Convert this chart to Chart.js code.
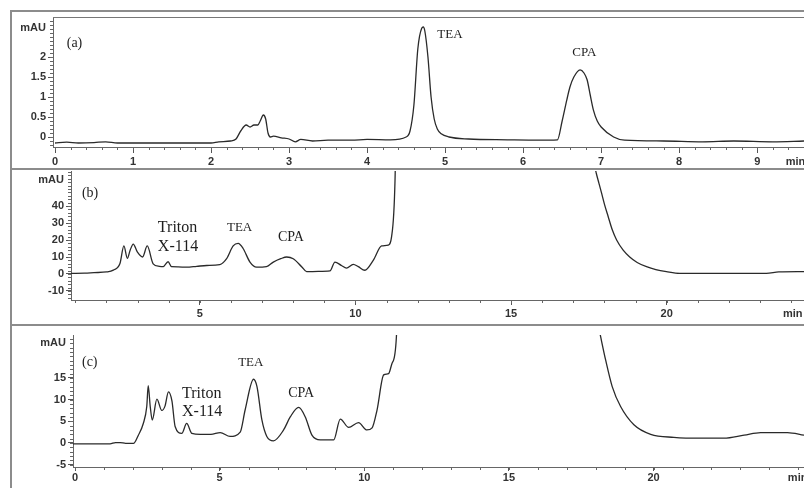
<!DOCTYPE html>
<html lang="en">
<head>
<meta charset="UTF-8">
<title>Chromatograms (a) (b) (c)</title>
<script src="https://cdn.jsdelivr.net/npm/chart.js@4.4.1/dist/chart.umd.min.js"></script>
<style>
    html, body { margin: 0; padding: 0; background: #fff; }
    #wrap { position: relative; width: 804px; height: 488px; overflow: hidden; }
    #wrap canvas { position: absolute; left: 0; }
    .rule { position: absolute; background: #8c8c8c; }
</style>
</head>
<body>
<div id="wrap">
    <!-- outer frame and panel separators -->
    <div class="rule" style="left:10px; top:10px; width:794px; height:2px;"></div>
    <div class="rule" style="left:10px; top:10px; width:2px; height:478px;"></div>
    <div class="rule" style="left:53px; top:17px; width:751px; height:1px; background:#777;"></div>
    <div class="rule" style="left:10px; top:168px; width:794px; height:2px;"></div>
    <div class="rule" style="left:10px; top:324px; width:794px; height:2px;"></div>
    <canvas id="chartA" width="804" height="169" style="top:0px"></canvas>
    <canvas id="chartB" width="804" height="156" style="top:169px"></canvas>
    <canvas id="chartC" width="804" height="163" style="top:325px"></canvas>
</div>

<script>
    // ---- panel (a) ----
    const timeA = [0, 0.15, 0.3, 0.5, 0.65, 0.8, 1.2, 1.6, 2.0, 2.1, 2.25, 2.32, 2.38, 2.45, 2.5, 2.55, 2.6, 2.63, 2.67, 2.7, 2.73, 2.76, 2.8, 2.9, 3.0, 3.08, 3.15, 3.3, 3.5, 3.8, 4.0, 4.3, 4.5, 4.55, 4.6, 4.65, 4.7, 4.72, 4.74, 4.78, 4.82, 4.86, 4.9, 4.95, 5.05, 5.3, 5.8, 6.2, 6.44, 6.5, 6.56, 6.6, 6.65, 6.73, 6.78, 6.82, 6.86, 6.9, 6.95, 7.0, 7.16, 7.3, 7.8, 8.3, 8.7, 9.2, 9.6];
    const signalA = [-0.15, -0.13, -0.15, -0.14, -0.12, -0.15, -0.15, -0.15, -0.15, -0.12, -0.1, -0.05, 0.15, 0.3, 0.25, 0.3, 0.3, 0.4, 0.55, 0.45, 0.1, 0.0, 0.02, -0.02, -0.05, -0.12, -0.06, -0.1, -0.08, -0.08, -0.06, -0.07, 0.0, 0.15, 0.8, 2.2, 2.72, 2.75, 2.65, 2.0, 1.0, 0.45, 0.2, 0.08, 0.0, -0.05, -0.07, -0.08, -0.07, 0.4, 0.93, 1.25, 1.5, 1.68, 1.6, 1.43, 1.05, 0.68, 0.4, 0.25, 0.0, -0.08, -0.1, -0.12, -0.1, -0.12, -0.1];
    const xTicksA = [0, 1, 2, 3, 4, 5, 6, 7, 8, 9];
    const yTicksA = [0, 0.5, 1, 1.5, 2];

    // ---- panel (b) ----
    const timeB = [0.86, 1.3, 1.6, 2.0, 2.22, 2.43, 2.56, 2.67, 2.76, 2.86, 2.99, 3.16, 3.31, 3.5, 3.7, 3.82, 3.98, 4.09, 4.3, 4.57, 4.9, 5.22, 5.64, 5.86, 6.07, 6.23, 6.39, 6.61, 6.82, 7.14, 7.36, 7.6, 7.79, 8.0, 8.27, 8.43, 8.8, 9.18, 9.34, 9.55, 9.71, 9.93, 10.09, 10.3, 10.57, 10.84, 11.05, 11.16, 11.27, 11.4, 17.6, 17.74, 17.82, 17.9, 18.0, 18.12, 18.25, 18.39, 18.6, 18.81, 19.05, 19.35, 19.65, 19.99, 20.42, 21.5, 23.2, 23.6, 24.41];
    const signalB = [0.4, 0.5, 0.8, 1.2, 2.3, 6, 16.5, 9.2, 14, 17.6, 13, 10, 16.5, 6, 4.5, 4.3, 7.2, 4.3, 4.2, 4, 4.5, 5, 5.5, 9, 16.5, 18, 15, 7, 4, 4.3, 7, 9, 10, 9, 4.3, 1.4, 1.5, 1.8, 7, 5, 3.5, 5.7, 4.3, 2.2, 8, 16.5, 17, 22, 55, 200, 70, 59, 53.5, 48, 41, 33.7, 26, 20, 14, 10, 6.8, 4.3, 2.6, 1.4, 0.4, 0.4, 0.4, 1.2, 1.4];
    const xTicksB = [5, 10, 15, 20];
    const yTicksB = [-10, 0, 10, 20, 30, 40];

    // ---- panel (c) ----
    const timeC = [-0.07, 1.21, 1.4, 1.56, 1.75, 2.02, 2.19, 2.36, 2.48, 2.53, 2.6, 2.67, 2.83, 3.0, 3.11, 3.23, 3.35, 3.46, 3.69, 3.86, 4.04, 4.33, 4.7, 5.02, 5.36, 5.71, 5.88, 6.17, 6.29, 6.46, 6.63, 6.86, 7.21, 7.44, 7.73, 7.96, 8.19, 8.48, 8.94, 9.17, 9.46, 9.8, 10.09, 10.27, 10.44, 10.67, 10.84, 10.96, 11.11, 11.2, 18.0, 18.17, 18.34, 18.57, 18.86, 19.32, 19.9, 20.7, 21.63, 22.43, 23.13, 23.7, 24.63, 25.2];
    const signalC = [-0.2, -0.2, 0.1, 0.1, -0.1, -0.1, 1.8, 4.5, 8.4, 13.2, 8.4, 5.3, 10.1, 7.5, 8.5, 11.8, 9.7, 3.8, 2.2, 4.5, 2.2, 2, 2, 2.4, 1.5, 2.5, 7.6, 14.7, 13, 5.3, 1.5, 0.5, 3, 6, 8.2, 6, 1.8, 0.7, 0.7, 5.5, 3.6, 4.7, 3, 3.5, 7.6, 15.7, 16, 18.4, 24.5, 60, 30, 24.5, 19.2, 13, 8.4, 4.2, 2, 1.3, 1.1, 1.1, 1.8, 2.4, 2.4, 1.8];
    const xTicksC = [0, 5, 10, 15, 20];
    const yTicksC = [-5, 0, 5, 10, 15];

    // peak labels (x in min, y in mAU)
    const notesA = [
        { text: '(a)', x: 0.15, y: 2.33, size: 14 },
        { text: 'TEA', x: 4.9, y: 2.55, size: 13 },
        { text: 'CPA', x: 6.63, y: 2.1, size: 13 }
    ];
    const notesB = [
        { text: '(b)', x: 1.21, y: 47.6, size: 14 },
        { text: 'Triton', x: 3.65, y: 27, size: 16 },
        { text: 'X-114', x: 3.65, y: 15.9, size: 16 },
        { text: 'TEA', x: 5.87, y: 27.6, size: 13 },
        { text: 'CPA', x: 7.51, y: 21.8, size: 14 }
    ];
    const notesC = [
        { text: '(c)', x: 0.24, y: 18.5, size: 14 },
        { text: 'TEA', x: 5.64, y: 18.5, size: 13 },
        { text: 'Triton', x: 3.7, y: 11.3, size: 16 },
        { text: 'X-114', x: 3.7, y: 7.2, size: 16 },
        { text: 'CPA', x: 7.37, y: 11.5, size: 14 }
    ];

    const axisFont = { family: 'Liberation Sans', size: 11, weight: 'bold' };
    const inkColor = '#2a2a2a';

    function buildPanel(id, p) {
        const points = p.time.map((t, i) => ({ x: t, y: p.signal[i] }));

        // minor ticks + peak labels
        const extras = {
            id: 'extras_' + id,
            afterDraw(chart) {
                const ctx = chart.ctx;
                const xs = chart.scales.x, ys = chart.scales.y;
                const area = chart.chartArea;
                ctx.save();
                ctx.strokeStyle = '#666';
                ctx.lineWidth = 1;
                ctx.beginPath();
                for (let v = Math.ceil(p.xMin / p.minorX) * p.minorX; v <= p.xMax; v += p.minorX) {
                    const px = Math.round(xs.getPixelForValue(v)) + 0.5;
                    ctx.moveTo(px, area.bottom);
                    ctx.lineTo(px, area.bottom + 3);
                }
                for (let v = Math.ceil(p.yMin / p.minorY) * p.minorY; v <= p.yMax; v += p.minorY) {
                    const py = Math.round(ys.getPixelForValue(v)) + 0.5;
                    ctx.moveTo(area.left, py);
                    ctx.lineTo(area.left - 3, py);
                }
                ctx.stroke();

                ctx.fillStyle = '#1e1e1e';
                ctx.textAlign = 'left';
                ctx.textBaseline = 'middle';
                p.notes.forEach(n => {
                    ctx.font = n.size + 'px "Liberation Serif", "Times New Roman", serif';
                    ctx.fillText(n.text, xs.getPixelForValue(n.x), ys.getPixelForValue(n.y));
                });
                ctx.restore();
            }
        };

        return new Chart(document.getElementById(id), {
            type: 'line',
            data: {
                datasets: [{
                    data: points,
                    borderColor: inkColor,
                    borderWidth: 1.3,
                    pointRadius: 0,
                    cubicInterpolationMode: 'monotone',
                    fill: false
                }]
            },
            options: {
                responsive: false,
                animation: false,
                devicePixelRatio: 1,
                layout: { padding: { top: p.padTop, left: 0, right: 0, bottom: 0 } },
                plugins: { legend: { display: false }, tooltip: { enabled: false } },
                scales: {
                    x: {
                        type: 'linear',
                        min: p.xMin,
                        max: p.xMax,
                        afterBuildTicks: s => {
                            s.ticks = p.xTicks.map(v => ({ value: v })).concat([{ value: p.xUnitAt }]);
                        },
                        afterFit: s => {
                            s.height = p.xAxisHeight;
                            s.paddingLeft = 0;
                            s.paddingRight = 0;
                        },
                        ticks: {
                            autoSkip: false,
                            maxRotation: 0,
                            padding: p.xLabelPad,
                            color: '#333',
                            font: axisFont,
                            callback: v => (v === p.xUnitAt ? 'min' : String(v))
                        },
                        grid: {
                            drawOnChartArea: false,
                            tickLength: p.xTickLen,
                            tickColor: c => (c.tick && c.tick.value === p.xUnitAt ? 'rgba(0,0,0,0)' : '#555')
                        },
                        border: { display: true, color: '#666', width: 1 }
                    },
                    y: {
                        type: 'linear',
                        min: p.yMin,
                        max: p.yMax,
                        afterBuildTicks: s => {
                            s.ticks = p.yTicks.map(v => ({ value: v })).concat([{ value: p.yUnitAt }]);
                        },
                        afterFit: s => {
                            s.width = p.yAxisWidth;
                            s.paddingTop = 0;
                            s.paddingBottom = 0;
                        },
                        ticks: {
                            padding: 2,
                            color: '#333',
                            font: axisFont,
                            callback: v => (v === p.yUnitAt ? 'mAU' : String(v))
                        },
                        grid: {
                            drawOnChartArea: false,
                            tickLength: 5,
                            tickColor: c => (c.tick && c.tick.value === p.yUnitAt ? 'rgba(0,0,0,0)' : '#555')
                        },
                        border: { display: true, color: '#666', width: 1 }
                    }
                }
            },
            plugins: [extras]
        });
    }

    buildPanel('chartA', {
        time: timeA, signal: signalA, notes: notesA,
        xTicks: xTicksA, yTicks: yTicksA, xUnitAt: 9.49, yUnitAt: 2.725,
        xMin: -0.026, xMax: 9.6, yMin: -0.25, yMax: 2.975,
        minorX: 0.2, minorY: 0.1,
        padTop: 18, yAxisWidth: 53, xAxisHeight: 22, xTickLen: 6, xLabelPad: 2
    });

    buildPanel('chartB', {
        time: timeB, signal: signalB, notes: notesB,
        xTicks: xTicksB, yTicks: yTicksB, xUnitAt: 24.05, yUnitAt: 55.3,
        xMin: 0.86, xMax: 24.41, yMin: -15.3, yMax: 60.6,
        minorX: 1, minorY: 2,
        padTop: 2, yAxisWidth: 71, xAxisHeight: 25, xTickLen: 5, xLabelPad: 2
    });

    buildPanel('chartC', {
        time: timeC, signal: signalC, notes: notesC,
        xTicks: xTicksC, yTicks: yTicksC, xUnitAt: 24.98, yUnitAt: 23.1,
        xMin: -0.07, xMax: 25.2, yMin: -5.54, yMax: 24.9,
        minorX: 1, minorY: 1,
        padTop: 10, yAxisWidth: 73, xAxisHeight: 21, xTickLen: 4, xLabelPad: 0
    });
</script>
</body>
</html>
